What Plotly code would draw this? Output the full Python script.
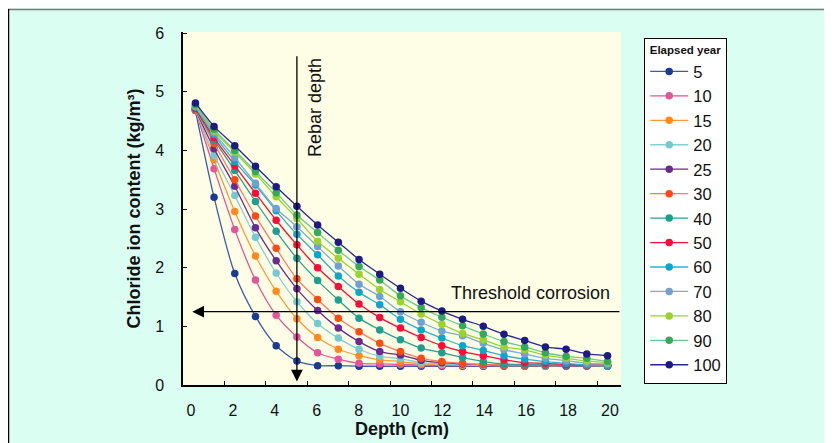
import plotly.graph_objects as go

# ---- data ----
depth = [0.6, 1.5, 2.5, 3.5, 4.5, 5.5, 6.5, 7.5, 8.5, 9.5, 10.5,
         11.5, 12.5, 13.5, 14.5, 15.5, 16.5, 17.5, 18.5, 19.5, 20.5]

years = ["5", "10", "15", "20", "25", "30", "40", "50", "60", "70", "80", "90", "100"]

y5 = [4.68, 3.20, 1.90, 1.17, 0.67, 0.41, 0.33, 0.33, 0.32, 0.32, 0.32, 0.32, 0.32, 0.32, 0.32, 0.32, 0.32, 0.32, 0.32, 0.32, 0.32]
y10 = [4.68, 3.69, 2.65, 1.79, 1.19, 0.82, 0.55, 0.44, 0.37, 0.36, 0.35, 0.34, 0.33, 0.33, 0.33, 0.33, 0.33, 0.33, 0.33, 0.33, 0.33]
y15 = [4.70, 3.84, 2.96, 2.20, 1.60, 1.13, 0.81, 0.61, 0.50, 0.43, 0.40, 0.36, 0.35, 0.34, 0.34, 0.33, 0.33, 0.33, 0.33, 0.33, 0.33]
y20 = [4.70, 3.92, 3.23, 2.52, 1.91, 1.42, 1.05, 0.80, 0.61, 0.49, 0.45, 0.38, 0.36, 0.35, 0.34, 0.34, 0.34, 0.33, 0.33, 0.33, 0.33]
y25 = [4.70, 4.03, 3.39, 2.68, 2.12, 1.64, 1.27, 0.97, 0.74, 0.57, 0.51, 0.42, 0.38, 0.36, 0.35, 0.34, 0.34, 0.34, 0.33, 0.33, 0.33]
y30 = [4.70, 4.12, 3.50, 2.88, 2.33, 1.81, 1.46, 1.14, 0.91, 0.71, 0.57, 0.455, 0.40, 0.37, 0.35, 0.34, 0.34, 0.34, 0.34, 0.33, 0.33]
y40 = [4.71, 4.18, 3.66, 3.13, 2.62, 2.16, 1.78, 1.45, 1.14, 0.94, 0.77, 0.63, 0.55, 0.47, 0.40, 0.36, 0.35, 0.34, 0.34, 0.34, 0.34]
y50 = [4.72, 4.22, 3.74, 3.27, 2.81, 2.39, 2.00, 1.68, 1.38, 1.15, 0.97, 0.81, 0.67, 0.57, 0.50, 0.43, 0.38, 0.37, 0.35, 0.34, 0.34]
y60 = [4.74, 4.27, 3.81, 3.41, 2.97, 2.57, 2.22, 1.86, 1.58, 1.37, 1.12, 0.94, 0.80, 0.67, 0.59, 0.50, 0.44, 0.40, 0.37, 0.34, 0.33]
y70 = [4.75, 4.30, 3.88, 3.44, 3.01, 2.70, 2.36, 2.03, 1.72, 1.51, 1.25, 1.07, 0.92, 0.84, 0.71, 0.60, 0.53, 0.455, 0.415, 0.37, 0.36]
y80 = [4.77, 4.33, 3.97, 3.60, 3.21, 2.84, 2.45, 2.16, 1.89, 1.63, 1.42, 1.21, 1.035, 0.88, 0.77, 0.65, 0.60, 0.51, 0.455, 0.41, 0.38]
y90 = [4.78, 4.36, 4.00, 3.64, 3.28, 2.90, 2.60, 2.30, 2.02, 1.79, 1.52, 1.32, 1.155, 1.01, 0.87, 0.74, 0.65, 0.55, 0.49, 0.455, 0.40]
y100 = [4.81, 4.41, 4.08, 3.73, 3.38, 3.05, 2.73, 2.435, 2.14, 1.89, 1.65, 1.43, 1.26, 1.12, 1.00, 0.865, 0.76, 0.65, 0.61, 0.53, 0.50]

series = [y5, y10, y15, y20, y25, y30, y40, y50, y60, y70, y80, y90, y100]

marker_colors = ["#1A3A94", "#E0559B", "#FF8A1E", "#75CACF", "#6B2A90", "#FF4A10", "#1E9E8E",
                 "#FF0A3A", "#10A5C8", "#6FA2D2", "#9AD22E", "#35A85A", "#1E1A84"]
line_colors = ["#3A5BA8", "#E0559B", "#FF9A3A", "#80D0D4", "#6B2A90", "#FF7A5A", "#2AA090",
               "#FF0A3A", "#30B0D0", "#7FAAD6", "#9AD22E", "#6CC890", "#2A2690"]

x_ticks = [0, 2, 4, 6, 8, 10, 12, 14, 16, 18, 20]
y_ticks = [0, 1, 2, 3, 4, 5, 6]

rebar_depth = 5.5
threshold = 1.25

# ---- layout geometry (figure pixels; page is offset by 8px body margin) ----
W, H = 832, 443
OFF = 8
L, R, T, B = 183 - OFF, 621 - OFF, 32 - OFF, 385 - OFF
pw, ph = R - L, B - T


def pg_x(p):
    return (p - OFF - L) / pw


def pg_y(p):
    return (B - (p - OFF)) / ph


FONT = "Liberation Sans, Arial, sans-serif"

fig = go.Figure()
for name, ys, mc, lc in zip(years, series, marker_colors, line_colors):
    fig.add_trace(go.Scatter(
        x=depth, y=ys, name=name, mode="lines+markers",
        line=dict(color=lc, width=1.3, shape="spline", smoothing=0.8),
        marker=dict(color=mc, size=7.5),
    ))

# empty trace so the label axis exists
fig.add_trace(go.Scatter(x=[None], y=[None], xaxis="x2", showlegend=False, hoverinfo="skip"))

shapes = [
    dict(type="line", xref="paper", yref="paper", x0=pg_x(8), x1=pg_x(W + 20), y0=pg_y(9.5), y1=pg_y(9.5),
         line=dict(color="#7a7a7a", width=1.5)),
    dict(type="line", xref="paper", yref="paper", x0=pg_x(8.5), x1=pg_x(8.5), y0=pg_y(9), y1=pg_y(H + 20),
         line=dict(color="black", width=1.5)),
]

annotations = [
    dict(x=rebar_depth, y=0.06, ax=rebar_depth, ay=5.63, xref="x", yref="y", axref="x", ayref="y",
         text="", showarrow=True, arrowhead=2, arrowsize=1.8, arrowwidth=1.3, arrowcolor="black", standoff=0),
    dict(x=0.45, y=threshold, ax=21.15, ay=threshold, xref="x", yref="y", axref="x", ayref="y",
         text="", showarrow=True, arrowhead=2, arrowsize=1.8, arrowwidth=1.3, arrowcolor="black", standoff=0),
    dict(x=6.34, y=4.73, xref="x", yref="y", text="Rebar depth", showarrow=False, textangle=-90,
         font=dict(family=FONT, size=18, color="#111111")),
    dict(x=16.77, y=1.57, xref="x", yref="y", text="Threshold corrosion", showarrow=False,
         font=dict(family=FONT, size=18, color="#111111")),
]

fig.update_layout(
    width=W, height=H,
    margin=dict(l=L, r=W - R, t=T, b=H - B, autoexpand=False),
    paper_bgcolor="#DBFEF2",
    plot_bgcolor="#FEFEE6",
    font=dict(family=FONT, color="#111111", size=16),
    showlegend=True,
    legend=dict(
        x=pg_x(644), y=pg_y(384), xanchor="left", yanchor="bottom",
        bgcolor="white", bordercolor="black", borderwidth=1.2,
        font=dict(family=FONT, size=16.5, color="#111111"),
        title=dict(text="Elapsed year", side="top center",
                   font=dict(family=FONT, size=11.5, color="#111111", weight="bold")),
        tracegroupgap=0, itemwidth=38,
    ),
    xaxis=dict(
        range=[0, 21.15], tickvals=x_ticks, showticklabels=False,
        ticks="inside", ticklen=4, tickcolor="black", tickwidth=1,
        showline=True, linecolor="black", linewidth=1.5,
        showgrid=False, zeroline=False,
    ),
    xaxis2=dict(
        overlaying="x", anchor="y", side="bottom",
        range=[-0.382, 20.525], tickvals=x_ticks, ticktext=[str(v) for v in x_ticks],
        ticks="", showline=False, showgrid=False, zeroline=False,
        ticklabelstandoff=14, tickfont=dict(family=FONT, size=16, color="#111111"),
        title=dict(text="Depth (cm)", standoff=4,
                   font=dict(family=FONT, size=18, color="#111111", weight="bold")),
    ),
    yaxis=dict(
        range=[0, 6.02], tickvals=y_ticks,
        ticks="inside", ticklen=4, tickcolor="black", tickwidth=1,
        showline=True, linecolor="black", linewidth=1.5,
        showgrid=False, zeroline=False,
        ticklabelstandoff=14, tickfont=dict(family=FONT, size=16, color="#111111"),
        title=dict(text="Chloride ion content (kg/m³)", standoff=10,
                   font=dict(family=FONT, size=18, color="#111111", weight="bold")),
    ),
    shapes=shapes,
    annotations=annotations,
)

fig.write_html("out.html")
